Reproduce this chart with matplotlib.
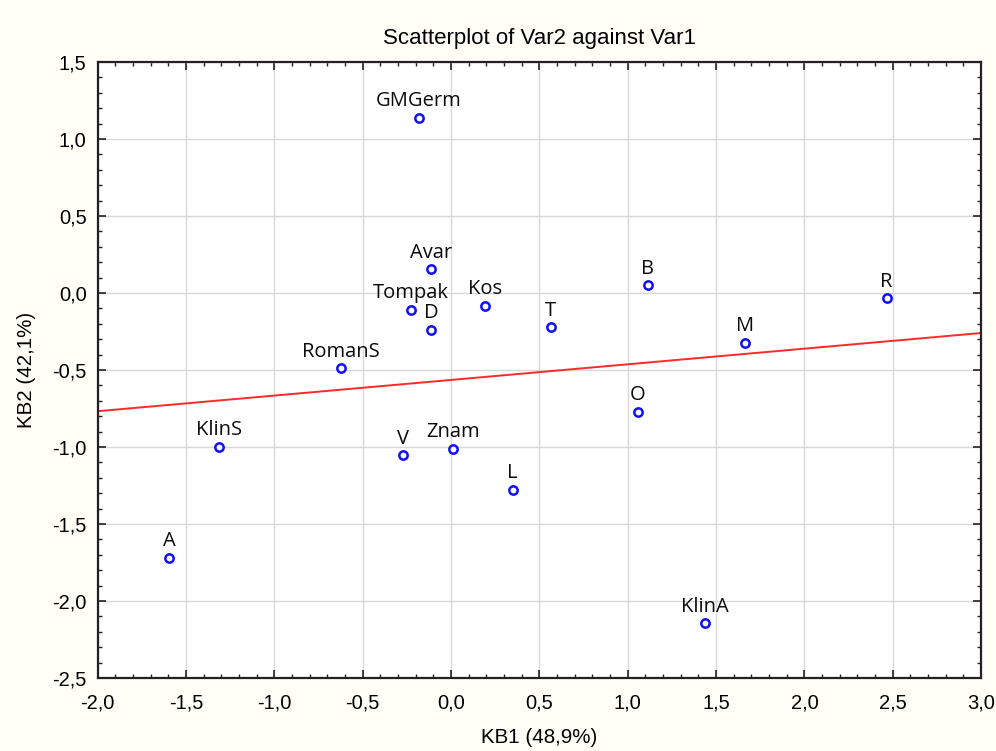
import numpy as np
import matplotlib
matplotlib.use("Agg")
import matplotlib.pyplot as plt
from matplotlib.ticker import MultipleLocator, FixedLocator, FixedFormatter

names = ["GMGerm", "Avar", "Tompak", "D", "Kos", "T", "B", "R", "M", "RomanS",
         "O", "KlinS", "V", "Znam", "L", "A", "KlinA"]
kb1 = [-0.184, -0.115, -0.227, -0.113, 0.194, 0.565, 1.113, 2.465, 1.665, -0.625,
       1.058, -1.315, -0.272, 0.009, 0.349, -1.596, 1.439]
kb2 = [1.138, 0.154, -0.108, -0.240, -0.084, -0.223, 0.050, -0.035, -0.325, -0.489,
       -0.773, -1.000, -1.054, -1.013, -1.281, -1.719, -2.145]

xticks = [-2.0, -1.5, -1.0, -0.5, 0.0, 0.5, 1.0, 1.5, 2.0, 2.5, 3.0]
xticklabels = ["-2,0", "-1,5", "-1,0", "-0,5", "0,0", "0,5", "1,0", "1,5", "2,0", "2,5", "3,0"]
yticks = [-2.5, -2.0, -1.5, -1.0, -0.5, 0.0, 0.5, 1.0, 1.5]
yticklabels = ["-2,5", "-2,0", "-1,5", "-1,0", "-0,5", "0,0", "0,5", "1,0", "1,5"]

title = "Scatterplot of Var2 against Var1"
xlabel = "KB1 (48,9%)"
ylabel = "KB2 (42,1%)"

fig = plt.figure(figsize=(9.96, 7.51), dpi=100, facecolor="#fffef7")
ax = fig.add_axes([0.0981, 0.0972, 0.985 - 0.0981, 0.9174 - 0.0972])
ax.set_facecolor("white")

ax.set_xlim(-2.0, 3.0)
ax.set_ylim(-2.5, 1.5)

ax.grid(True, color="#d8d8d8", linewidth=1.0)
ax.set_axisbelow(True)

# regression line
x = np.array(kb1)
y = np.array(kb2)
slope, intercept = np.polyfit(x, y, 1)
xl = np.array([-2.0, 3.0])
ax.plot(xl, intercept + slope * xl, color="#ff2a2a", linewidth=1.4, zorder=2)

ax.plot(x, y, linestyle="none", marker="o", markersize=6, markerfacecolor="white",
        markeredgecolor="#1010ff", markeredgewidth=1.8, zorder=3)

for n, xi, yi in zip(names, kb1, kb2):
    ax.annotate(n, (xi, yi), xytext=(0, 8.5), textcoords="offset points",
                ha="center", va="baseline", fontsize=14.5, family="Open Sans",
                color="#0a0a0a", zorder=4)

ax.xaxis.set_major_locator(FixedLocator(xticks))
ax.xaxis.set_major_formatter(FixedFormatter(xticklabels))
ax.yaxis.set_major_locator(FixedLocator(yticks))
ax.yaxis.set_major_formatter(FixedFormatter(yticklabels))
ax.xaxis.set_minor_locator(MultipleLocator(0.1))
ax.yaxis.set_minor_locator(MultipleLocator(0.1))

ax.tick_params(which="both", direction="in", top=True, right=True, color="#222222")
ax.tick_params(which="major", length=6, width=1.2, labelsize=14.5, pad=8)
ax.tick_params(axis="x", which="major", pad=11)
ax.tick_params(which="minor", length=3, width=1.0)
for lbl in ax.get_xticklabels() + ax.get_yticklabels():
    lbl.set_family("Liberation Sans")

for s in ax.spines.values():
    s.set_linewidth(1.6)
    s.set_color("#222222")

ax.set_title(title, fontsize=16, family="Liberation Sans", pad=13)
ax.set_xlabel(xlabel, fontsize=14.8, family="Liberation Sans", labelpad=11)
ax.set_ylabel(ylabel, fontsize=14.8, family="Liberation Sans", labelpad=12)

fig.savefig("out.png", dpi=100, facecolor=fig.get_facecolor())
